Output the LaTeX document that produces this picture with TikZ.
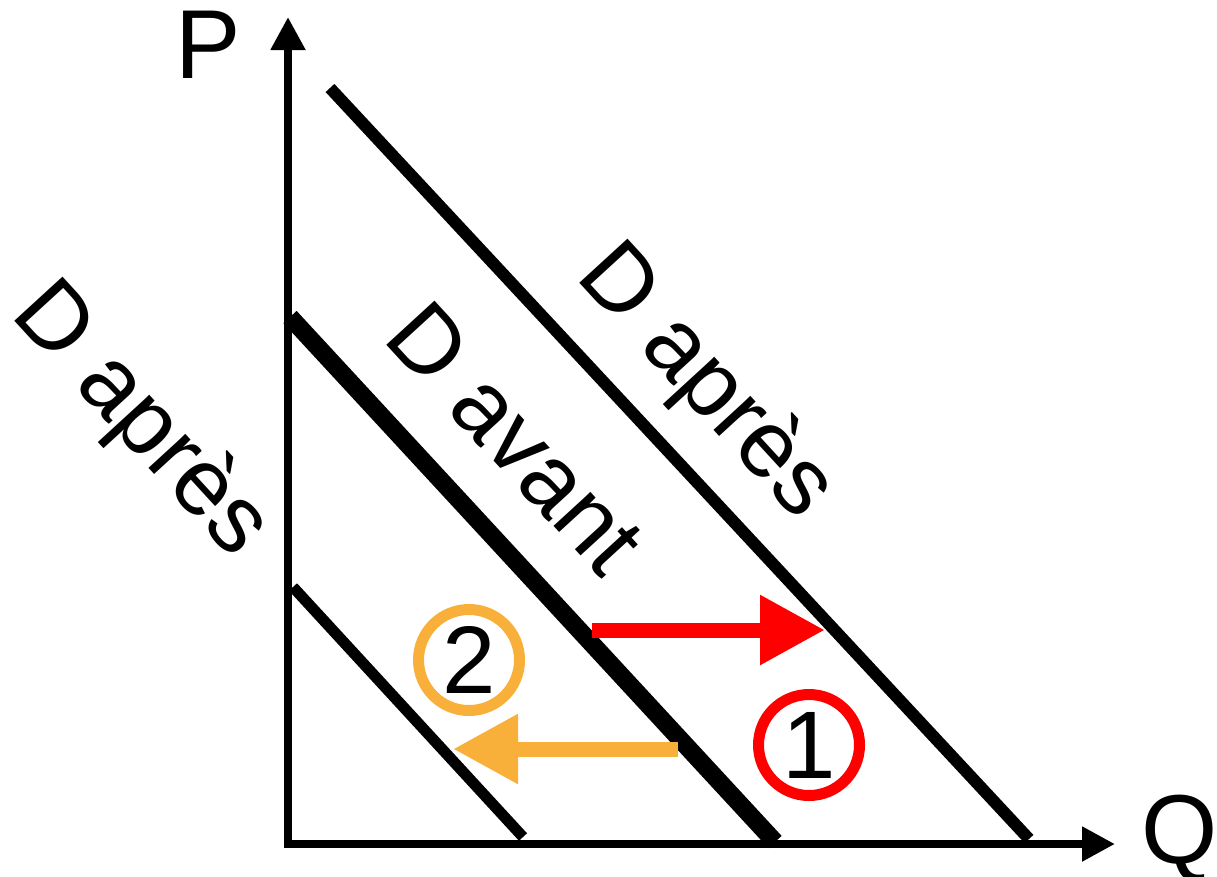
\documentclass[tikz,border=0pt]{standalone}
\usepackage{fontspec}
\setmainfont{Liberation Sans}
\usetikzlibrary{arrows.meta,positioning}

\definecolor{shiftred}{RGB}{255,0,0}
\definecolor{shiftorange}{RGB}{249,176,59}

\tikzset{
  curvelabel/.style={font=\fontsize{95}{100}\selectfont, rotate=-47.5, inner sep=0},
  axislabel/.style={font=\fontsize{98}{110}\selectfont, inner sep=0},
  shiftarrow/.style={line width=15, -{Triangle[length=65pt,width=66pt]}},
  stepnum/.style={circle, line width=11, minimum size=101, inner sep=0,
    font=\fontsize{96}{100}\selectfont},
}

\begin{document}
\begin{tikzpicture}[x=1pt, y=-1pt]
  \useasboundingbox (0,0) rectangle (1217,876);

  \coordinate (O) at (288, 844);
  \coordinate (ptop) at (288, 17);
  \coordinate (qend) at (1115, 844);
  \draw[line width=8, {Triangle[length=33pt,width=33pt]}-{Triangle[length=33pt,width=33pt]}]
  (ptop) -- (O) -- (qend);
  \node[axislabel] (P) at (208, 45) {P};
  \node[axislabel] (Q) at (1180, 839) {Q};

  \coordinate (apresHa) at (330, 88);
  \coordinate (apresHb) at (1029, 839);
  \coordinate (avanta) at (290, 317);
  \coordinate (avantb) at (775, 842);
  \coordinate (apresBa) at (293, 587);
  \coordinate (apresBb) at (523, 837);

  \draw[line width=12] (apresHa) -- (apresHb);
  \node[curvelabel] (labapresH) at (705, 383) {D après};
  \draw[line width=18] (avanta) -- (avantb);
  \node[curvelabel] (labavant) at (516, 438) {D avant};
  \draw[line width=11] (apresBa) -- (apresBb);
  \node[curvelabel] (labapresB) at (140, 421) {D après};

  \coordinate (redstart) at (592, 630);
  \coordinate (redend) at (825, 630);
  \draw[shiftarrow, shiftred] (redstart) -- (redend);
  \node[stepnum, draw=shiftred] (one) at (809, 745) {1};

  \coordinate (orstart) at (678, 749);
  \coordinate (orend) at (453, 749);
  \draw[shiftarrow, shiftorange] (orstart) -- (orend);
  \node[stepnum, draw=shiftorange] (two) at (469, 660) {2};
\end{tikzpicture}
\end{document}
